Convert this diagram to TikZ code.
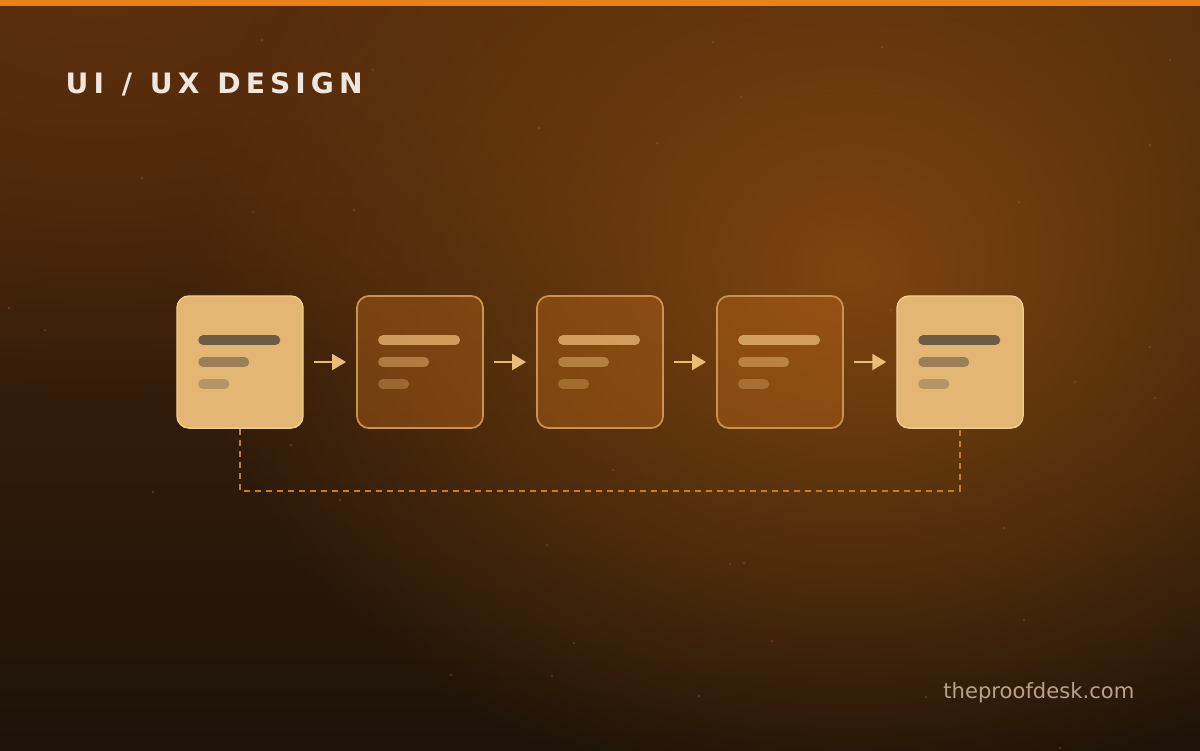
\documentclass[tikz,border=0pt]{standalone}
\usepackage{fontspec}
\setmainfont{DejaVu Sans}
\newfontfamily\titlefont{DejaVu Sans}[LetterSpace=18,WordSpace=1.2]
\usetikzlibrary{arrows.meta,calc,fadings}
\definecolor{bgtop}{HTML}{4A270B}
\definecolor{bgbottom}{HTML}{1D1208}
\definecolor{glowcol}{HTML}{7E450F}
\definecolor{cornercol}{HTML}{5C2F0D}
\definecolor{topbar}{HTML}{E8821A}
\definecolor{cardlight}{HTML}{E3B773}
\definecolor{cardedge}{HTML}{F0CC8E}
\definecolor{ghostfill}{HTML}{B8661A}
\definecolor{ghostedge}{HTML}{C99152}
\definecolor{inkdark}{HTML}{6E5B45}
\definecolor{inkmid}{HTML}{9B7F58}
\definecolor{inklight}{HTML}{B39462}
\definecolor{inkghost}{HTML}{F2C27E}
\definecolor{arrowcol}{HTML}{E9BD78}
\definecolor{dashcol}{HTML}{C47C34}
\definecolor{titlecol}{HTML}{F0E6DC}
\definecolor{urlcol}{HTML}{B9A18A}
\definecolor{dotcol}{HTML}{A07048}
\tikzfading[name=glowfade, inner color=transparent!0, outer color=transparent!100]

\begin{document}
\begin{tikzpicture}[x=0.01cm,y=-0.01cm,
  card/.style={rounded corners=0.12cm, minimum width=1.26cm, minimum height=1.32cm, inner sep=0pt},
  solidcard/.style={card, fill=cardlight, draw=cardedge, line width=0.4pt},
  ghostcard/.style={card, fill=ghostfill, fill opacity=0.42, draw=ghostedge, line width=0.5pt},
  bar/.style={line width=0.1cm, line cap=round},
  flow/.style={draw=arrowcol, line width=0.02cm, -{Triangle[length=0.14cm,width=0.16cm]}, shorten <=0.1cm, shorten >=0.1cm},
  loopback/.style={draw=dashcol, line width=0.015cm, dash pattern=on 0.06cm off 0.05cm}]
\useasboundingbox (0,0) rectangle (1200,750);
\begin{scope}
\clip (0,0) rectangle (1200,750);
\shade[top color=bgtop, bottom color=bgbottom] (0,0) rectangle (1200,750);
\fill[cornercol, path fading=glowfade] (100,0) ellipse (700 and 400);
\fill[glowcol, path fading=glowfade] (850,270) ellipse (660 and 540);
\foreach \px/\py in {262/40,713/42,882/47,1170/60,373/70,741/97,539/128,657/143,1150/145,142/178,253/212,354/210,1019/202,9/308,45/330,891/310,1150/347,1075/382,1155/398,291/445,613/470,153/492,340/500,547/545,730/564,744/563,1004/528,574/643,772/641,1024/620,552/676,451/675,699/696,926/697,1060/748}
  \fill[dotcol, opacity=0.3] (\px,\py) circle (0.015cm);
\end{scope}
\fill[topbar] (0,0) rectangle (1200,6);

\node[anchor=base west, inner sep=0pt, text=titlecol, font=\titlefont\bfseries\fontsize{8pt}{9pt}\selectfont] (title) at (65,93) {UI / UX DESIGN};

\node[solidcard] (c1) at (240,362) {};
\node[ghostcard] (c2) at (420,362) {};
\node[ghostcard] (c3) at (600,362) {};
\node[ghostcard] (c4) at (780,362) {};
\node[solidcard] (c5) at (960,362) {};

\foreach \c in {c1,c5} {
  \draw[bar, draw=inkdark] ($(\c.north west)+(27,45)$) -- ++(72,0);
  \draw[bar, draw=inkmid] ($(\c.north west)+(27,67)$) -- ++(41,0);
  \draw[bar, draw=inklight] ($(\c.north west)+(27,89)$) -- ++(21,0);
}
\foreach \c in {c2,c3,c4} {
  \draw[bar, draw=inkghost, draw opacity=0.7] ($(\c.north west)+(27,45)$) -- ++(72,0);
  \draw[bar, draw=inkghost, draw opacity=0.45] ($(\c.north west)+(27,67)$) -- ++(41,0);
  \draw[bar, draw=inkghost, draw opacity=0.3] ($(\c.north west)+(27,89)$) -- ++(21,0);
}

\draw[flow] (c1.east) -- (c2.west);
\draw[flow] (c2.east) -- (c3.west);
\draw[flow] (c3.east) -- (c4.west);
\draw[flow] (c4.east) -- (c5.west);

\draw[loopback] (c1.south) -- ++(0,62) -| (c5.south);

\node[anchor=base east, inner sep=0pt, text=urlcol, font=\fontsize{6pt}{7pt}\selectfont] (site) at (1135,698) {theproofdesk.com};
\end{tikzpicture}
\end{document}
